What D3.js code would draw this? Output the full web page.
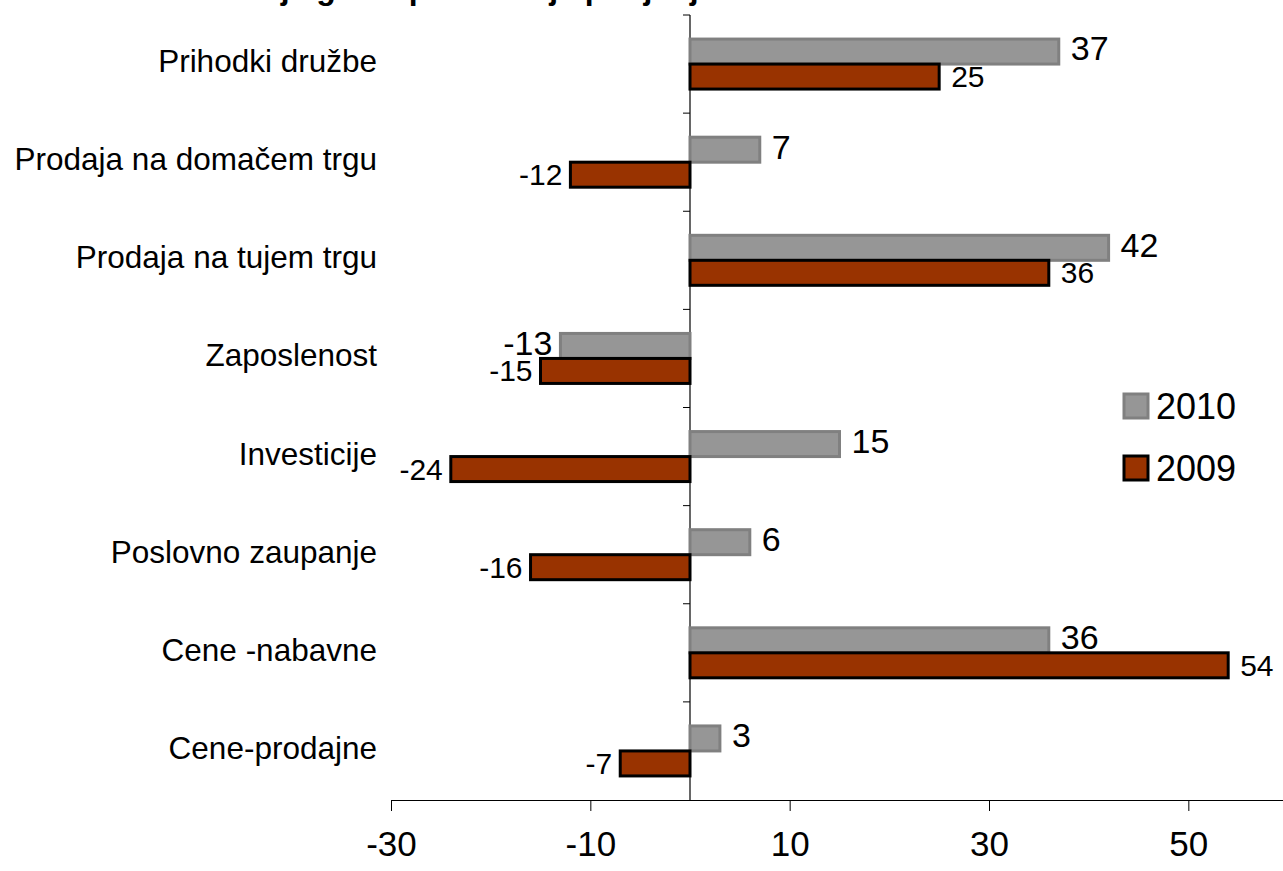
<!DOCTYPE html>
<html>
<head>
<meta charset="utf-8">
<script src="https://cdn.jsdelivr.net/npm/d3@7"></script>
<style>
  body { margin: 0; background: #fff; }
  text { font-family: "Liberation Sans", Arial, sans-serif; }
</style>
</head>
<body>
<div id="chart"></div>
<script>
// categories, top to bottom
let categories = ['Prihodki družbe', 'Prodaja na domačem trgu', 'Prodaja na tujem trgu',
    'Zaposlenost', 'Investicije', 'Poslovno zaupanje', 'Cene -nabavne', 'Cene-prodajne'];
let values2010 = [37, 7, 42, -13, 15, 6, 36, 3];
let values2009 = [25, -12, 36, -15, -24, -16, 54, -7];
let xTicks = [-30, -10, 10, 30, 50];
let seriesNames = ['2010', '2009'];

let width = 1283;
let height = 871;

let svg = d3.select('#chart')
    .append('svg')
    .attr('width', width)
    .attr('height', height);

// scales
let x = d3.scaleLinear().domain([-30, 60]).range([391, 1288]);
let y = d3.scaleBand().domain(categories).range([15, 800]);
let inner = d3.scaleBand().domain(seriesNames).range([0, 50]);
let offset = (y.bandwidth() - 50) / 2;

let colors = { '2010': { fill: '#969696', stroke: '#808080' }, '2009': { fill: '#993300', stroke: '#000' } };

// title (cut off at the top of the picture, only descenders show)
svg.append('text')
    .text('Pričakovanja glede poslovanja podjetij v letu 2010')
    .attr('x', 110)
    .attr('y', -1)
    .style('font-weight', 'bold')
    .style('font-size', '32px');

// x axis
let xAxis = svg.append('g')
    .attr('transform', 'translate(0,800)')
    .call(d3.axisBottom(x).tickValues(xTicks).tickFormat(d => String(d))
        .tickSize(11).tickPadding(20).tickSizeOuter(0));
xAxis.select('.domain').attr('stroke', '#000').attr('stroke-width', 1.2);
xAxis.selectAll('.tick line').attr('stroke', '#000');
xAxis.selectAll('text')
    .style('font-size', '35px')
    .attr('fill', '#000')
    .attr('dy', '0.71em');

// category axis at zero
svg.append('line')
    .attr('x1', x(0)).attr('x2', x(0))
    .attr('y1', 15).attr('y2', 800)
    .attr('stroke', '#000').attr('stroke-width', 1.2);
svg.selectAll('.cat-tick')
    .data(categories)
    .enter()
    .append('line')
    .attr('class', 'cat-tick')
    .attr('x1', x(0) - 7).attr('x2', x(0))
    .attr('y1', d => y(d)).attr('y2', d => y(d))
    .attr('stroke', '#000');

// category labels
svg.selectAll('.cat-label')
    .data(categories)
    .enter()
    .append('text')
    .attr('class', 'cat-label')
    .text(d => d)
    .attr('x', 377)
    .attr('y', d => y(d) + y.bandwidth() / 2 - 3)
    .attr('dy', '0.35em')
    .attr('text-anchor', 'end')
    .style('font-size', '31.5px');

// bars
let series = [
    { name: '2010', values: values2010, size: 34 },
    { name: '2009', values: values2009, size: 30 }
];

series.forEach(s => {
    let g = svg.append('g').attr('class', 'series-' + s.name);
    let data = categories.map((c, i) => ({ cat: c, v: s.values[i] }));

    g.selectAll('rect')
        .data(data)
        .enter()
        .append('rect')
        .attr('x', d => x(Math.min(0, d.v)))
        .attr('y', d => y(d.cat) + offset + inner(s.name))
        .attr('width', d => Math.abs(x(d.v) - x(0)))
        .attr('height', inner.bandwidth())
        .attr('fill', colors[s.name].fill)
        .attr('stroke', colors[s.name].stroke)
        .attr('stroke-width', 3);

    g.selectAll('text')
        .data(data)
        .enter()
        .append('text')
        .text(d => d.v)
        .attr('x', d => d.v >= 0 ? x(d.v) + 12 : x(d.v) - 8)
        .attr('y', d => y(d.cat) + offset + inner(s.name) + inner.bandwidth() / 2 - (s.name === '2010' ? 3 : 0))
        .attr('dy', '0.35em')
        .attr('text-anchor', d => d.v >= 0 ? 'start' : 'end')
        .style('font-size', s.size + 'px');
});

// legend
let legend = svg.append('g').attr('transform', 'translate(1124,394)');
seriesNames.forEach((name, i) => {
    legend.append('rect')
        .attr('x', 0)
        .attr('y', i * 62)
        .attr('width', 24)
        .attr('height', 24)
        .attr('fill', colors[name].fill)
        .attr('stroke', colors[name].stroke)
        .attr('stroke-width', 3);
    legend.append('text')
        .text(name)
        .attr('x', 32)
        .attr('y', i * 62 + 12)
        .attr('dy', '0.35em')
        .style('font-size', '36px');
});
</script>
</body>
</html>
